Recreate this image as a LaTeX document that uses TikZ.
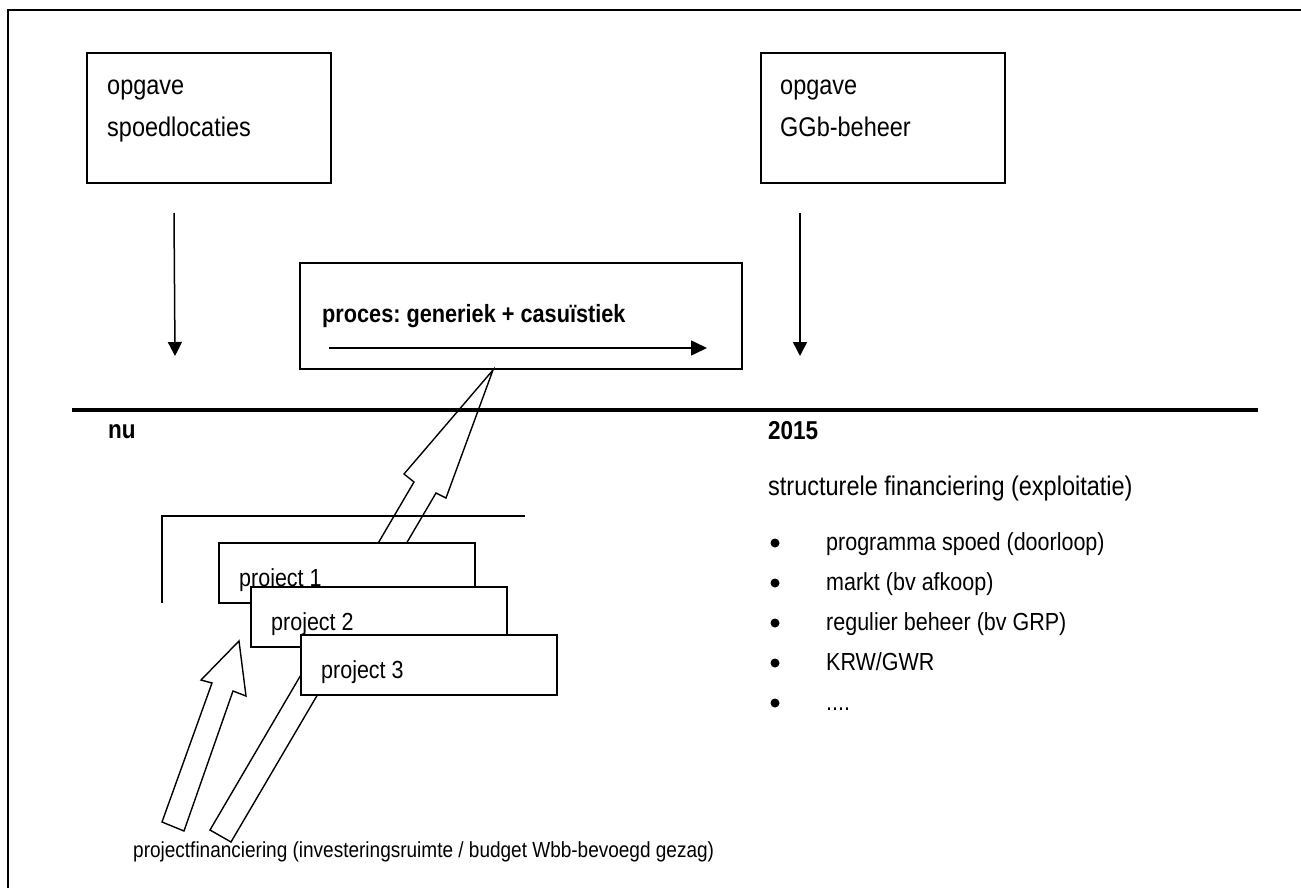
\documentclass[tikz,border=0pt]{standalone}
\usepackage{fontspec}
\usepackage{graphicx}
\setmainfont{Liberation Sans}
\usetikzlibrary{arrows.meta}
\frenchspacing
\newcommand{\vstr}[1]{\scalebox{1}[1.15]{#1}}
\begin{document}
\begin{tikzpicture}[x=1pt,y=-1pt,
  boxline/.style={draw, line width=1.6pt, inner sep=0pt, anchor=north west},
  whitebox/.style={boxline, fill=white},
  lbl/.style={anchor=base west, inner sep=0pt, font=\fontsize{23.5}{28}\selectfont},
  smlbl/.style={anchor=base west, inner sep=0pt, font=\fontsize{21.5}{26}\selectfont},
  boldlbl/.style={anchor=base west, inner sep=0pt, font=\fontsize{22.5}{27}\selectfont\bfseries},
  botlbl/.style={anchor=base west, inner sep=0pt, font=\fontsize{19}{23}\selectfont},
  downarrow/.style={line width=1.5pt, -{Triangle[length=14pt,width=14pt]}},
  hollow/.style={draw, line width=1.4pt, line join=miter},
  bulletdot/.style={circle, fill=black, inner sep=0pt, minimum size=9pt}
]
\useasboundingbox (0,0) rectangle (1301,888);
% outer frame (cropped)
\draw[line width=2pt] (8,888) -- (8,10) -- (1301,10);
% top boxes
\node[boxline, minimum width=244pt, minimum height=130pt] (b1) at (86,52) {};
\node[lbl] (b1a) at (107,95) {\vstr{opgave}};
\node[lbl] (b1b) at (107,137) {\vstr{spoedlocaties}};
\node[boxline, minimum width=244pt, minimum height=130pt] (b2) at (760,52) {};
\node[lbl] (b2a) at (780,95) {\vstr{opgave}};
\node[lbl] (b2b) at (780,137) {\vstr{GGb-beheer}};
% down arrows
\coordinate (a1s) at (174,213);
\coordinate (a1e) at (175,356);
\coordinate (a2s) at (800,213);
\coordinate (a2e) at (800,356);
\draw[downarrow] (a1s) -- (a1e);
\draw[downarrow] (a2s) -- (a2e);
% process box
\node[boxline, minimum width=442pt, minimum height=106pt] (proc) at (299,262) {};
\node[boldlbl, font=\fontsize{21.7}{26}\selectfont\bfseries] (proct) at (322,322) {\vstr{proces: generiek + casuïstiek}};
\coordinate (ps) at (329,348);
\coordinate (pe) at (707,348);
\draw[line width=1.5pt, -{Triangle[length=16pt,width=15pt]}] (ps) -- (pe);
% time line
\coordinate (tl) at (72,410);
\coordinate (tr) at (1258,410);
\draw[line width=4pt] (tl) -- (tr);
\node[boldlbl] (nu) at (108,438) {\vstr{nu}};
\node[boldlbl] (y2015) at (768,439) {\vstr{2015}};
\node[lbl] (struct) at (768,495) {\vstr{structurele financiering (exploitatie)}};
% bullets
\foreach \i/\t in {0/{programma spoed (doorloop)},1/{markt (bv afkoop)},2/{regulier beheer (bv GRP)},3/{KRW/GWR},4/{....}}{
  \node[bulletdot] (bd\i) at (775,{543+40*\i}) {};
  \node[smlbl] (bt\i) at (826,{550+40*\i}) {\vstr{\t}};
}
% bracket
\coordinate (bra) at (162,603);
\coordinate (brb) at (162,516);
\coordinate (brc) at (525,516);
\draw[line width=1.5pt] (bra) -- (brb) -- (brc);
% long hollow arrow to process box
\draw[hollow] (210,830) -- (414,482) -- (404,474) -- (493,370) -- (446,498) -- (436,493) -- (231,842) -- cycle;
% project boxes
\node[whitebox, minimum width=256pt, minimum height=60pt] (p1) at (218,542) {};
\node[smlbl] (p1t) at (239,586) {\vstr{project 1}};
\node[whitebox, minimum width=256pt, minimum height=60pt] (p2) at (250,586) {};
\node[smlbl] (p2t) at (271,630) {\vstr{project 2}};
\node[whitebox, minimum width=256pt, minimum height=60pt] (p3) at (300,634) {};
\node[smlbl] (p3t) at (321,678) {\vstr{project 3}};
% short hollow arrow
\draw[hollow] (162,822) -- (212,683) -- (201,680) -- (239,641) -- (246,696) -- (233,691) -- (184,831) -- cycle;
% bottom label
\node[botlbl] (bot) at (133,857) {\vstr{projectfinanciering (investeringsruimte / budget Wbb-bevoegd gezag)}};
\end{tikzpicture}
\end{document}
